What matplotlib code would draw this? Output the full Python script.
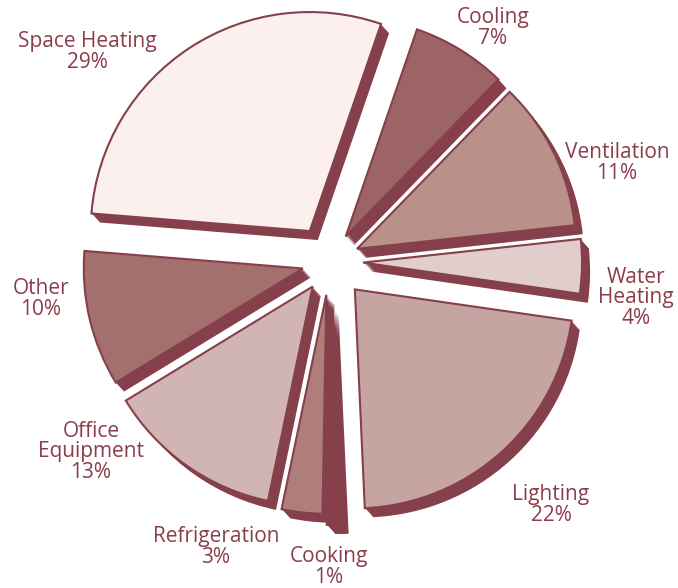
import matplotlib.pyplot as plt

# wedges go clockwise from the top, Space Heating last
labels = ["Cooling", "Ventilation", "Water\nHeating", "Lighting", "Cooking",
          "Refrigeration", "Office\nEquipment", "Other", "Space Heating"]
shares = [7, 11, 4, 22, 1, 3, 13, 10, 29]
fills = ["#9c6464", "#b9918a", "#e1cdcb", "#c6a4a1", "#85404c",
         "#b07e7a", "#d1b5b2", "#a3706e", "#fbf0ee"]
# how far each wedge is pulled out, in pixels
explode = [30, 30, 33, 37, 44, 33, 30, 28, 37]

# label centres in pixels from the top-left corner
label_xy = [(493, 28), (617, 163), (636, 298), (551, 505), (329, 567),
            (216, 547), (91, 452), (41, 299), (87, 52)]

W, H = 678, 588
dark = "#85404c"
text_col = "#8b3d4b"

fig = plt.figure(figsize=(W / 100, H / 100), dpi=100)
ax = fig.add_axes([0, 0, 1, 1])

cx, cy, r = 330, H - 262, 219

# extruded shadow: stack of dark copies shifted down-right
for k in range(1, 10):
    ax.pie(shares, explode=explode, radius=r, center=(cx + k * 0.9, cy - k),
           startangle=71, counterclock=False, colors=[dark] * len(shares),
           wedgeprops=dict(linewidth=0))

ax.pie(shares, explode=explode, radius=r, center=(cx, cy),
       startangle=71, counterclock=False, colors=fills,
       wedgeprops=dict(edgecolor=dark, linewidth=1.5))

for lab, s, (x, y) in zip(labels, shares, label_xy):
    ax.text(x, H - y, f"{lab}\n{s}%", ha="center", va="center",
            fontsize=15, color=text_col, family="Open Sans",
            linespacing=0.95)

ax.set_xlim(0, W)
ax.set_ylim(0, H)
ax.axis("off")
fig.savefig("out.png", dpi=100)
